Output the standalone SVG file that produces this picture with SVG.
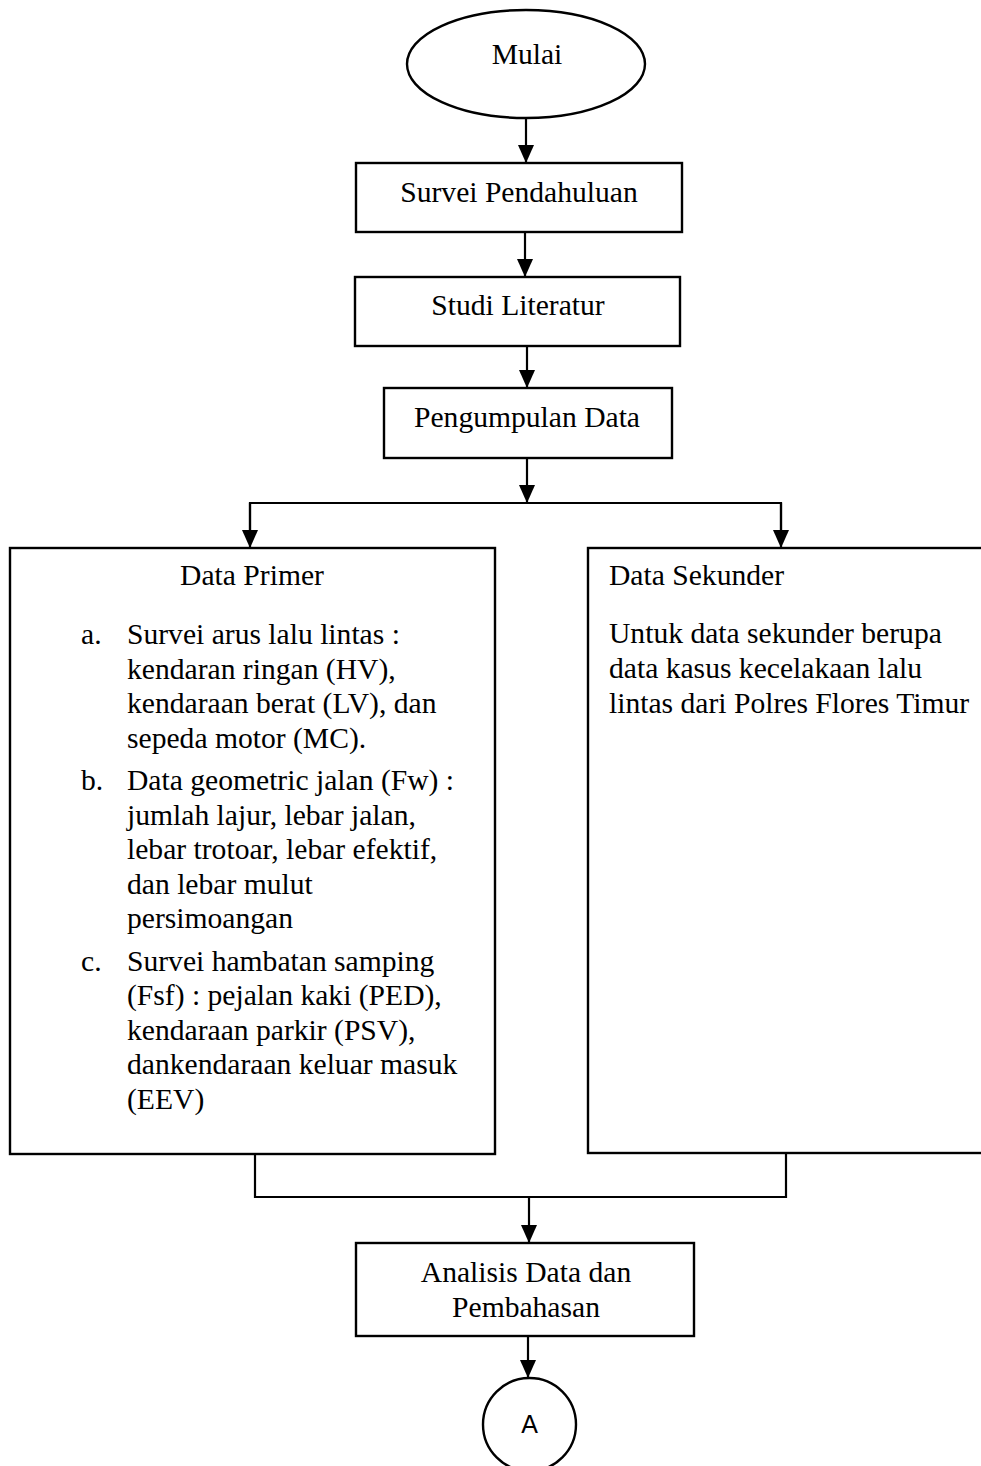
<svg xmlns="http://www.w3.org/2000/svg" width="981" height="1466" viewBox="0 0 981 1466">
<style>
.box{fill:#fff;stroke:#000;stroke-width:2.4}
.t{font-family:"Liberation Serif","Times New Roman",serif;font-size:29.6px;fill:#000}
.c{text-anchor:middle}
.ln{fill:none;stroke:#000;stroke-width:2.2}
.s{font-family:"Liberation Sans",Arial,sans-serif;font-size:25px;fill:#000;text-anchor:middle}
</style>
<defs>
<marker id="arr" markerUnits="userSpaceOnUse" markerWidth="18" markerHeight="16" viewBox="0 0 18 16" refX="18" refY="8" orient="auto">
<path d="M0,0 L18,8 L0,16 Z" fill="#000"/>
</marker>
</defs>
<rect width="981" height="1466" fill="#fff"/>
<g id="connectors">
<line class="ln" x1="526" y1="118" x2="526" y2="163" marker-end="url(#arr)"/>
<line class="ln" x1="525" y1="232" x2="525" y2="277" marker-end="url(#arr)"/>
<line class="ln" x1="527" y1="346" x2="527" y2="388" marker-end="url(#arr)"/>
<line class="ln" x1="527" y1="458" x2="527" y2="503" marker-end="url(#arr)"/>
<polyline class="ln" points="250,530 250,503 781,503 781,530"/>
<line class="ln" x1="250" y1="503" x2="250" y2="548" marker-end="url(#arr)"/>
<line class="ln" x1="781" y1="503" x2="781" y2="548" marker-end="url(#arr)"/>
<polyline class="ln" points="255,1154 255,1197 786,1197 786,1153"/>
<line class="ln" x1="529" y1="1197" x2="529" y2="1243" marker-end="url(#arr)"/>
<line class="ln" x1="528" y1="1336" x2="528" y2="1378" marker-end="url(#arr)"/>
</g>
<g id="mulai">
<ellipse class="box" cx="526" cy="64" rx="119" ry="54"/>
<text class="t c" x="527" y="64">Mulai</text>
</g>
<g id="survei">
<rect class="box" x="356" y="163" width="326" height="69"/>
<text class="t c" x="519" y="202">Survei Pendahuluan</text>
</g>
<g id="studi">
<rect class="box" x="355" y="277" width="325" height="69"/>
<text class="t c" x="518" y="315">Studi Literatur</text>
</g>
<g id="pengumpulan">
<rect class="box" x="384" y="388" width="288" height="70"/>
<text class="t c" x="527" y="427">Pengumpulan Data</text>
</g>
<g id="primer">
<rect class="box" x="10" y="548" width="485" height="606"/>
<text class="t c" x="252" y="585">Data Primer</text>
<text class="t" x="81" y="644">a.</text>
<text class="t" x="127" y="644">Survei arus lalu lintas :</text>
<text class="t" x="127" y="678.5">kendaran ringan (HV),</text>
<text class="t" x="127" y="713">kendaraan berat (LV), dan</text>
<text class="t" x="127" y="747.5">sepeda motor (MC).</text>
<text class="t" x="81" y="790">b.</text>
<text class="t" x="127" y="790">Data geometric jalan (Fw) :</text>
<text class="t" x="127" y="824.5">jumlah lajur, lebar jalan,</text>
<text class="t" x="127" y="859">lebar trotoar, lebar efektif,</text>
<text class="t" x="127" y="893.5">dan lebar mulut</text>
<text class="t" x="127" y="928">persimoangan</text>
<text class="t" x="81" y="970.5">c.</text>
<text class="t" x="127" y="970.5">Survei hambatan samping</text>
<text class="t" x="127" y="1005">(Fsf) : pejalan kaki (PED),</text>
<text class="t" x="127" y="1039.5">kendaraan parkir (PSV),</text>
<text class="t" x="127" y="1074">dankendaraan keluar masuk</text>
<text class="t" x="127" y="1108.5">(EEV)</text>
</g>
<g id="sekunder">
<rect class="box" x="588" y="548" width="400" height="605"/>
<text class="t" x="609" y="585">Data Sekunder</text>
<text class="t" x="609" y="643">Untuk data sekunder berupa</text>
<text class="t" x="609" y="678">data kasus kecelakaan lalu</text>
<text class="t" x="609" y="713">lintas dari Polres Flores Timur</text>
</g>
<g id="analisis">
<rect class="box" x="356" y="1243" width="338" height="93"/>
<text class="t c" x="526" y="1282">Analisis Data dan</text>
<text class="t c" x="526" y="1317">Pembahasan</text>
</g>
<g id="a">
<circle class="box" cx="529.5" cy="1424.5" r="46.5"/>
<text class="s" x="529.5" y="1433">A</text>
</g>
</svg>
